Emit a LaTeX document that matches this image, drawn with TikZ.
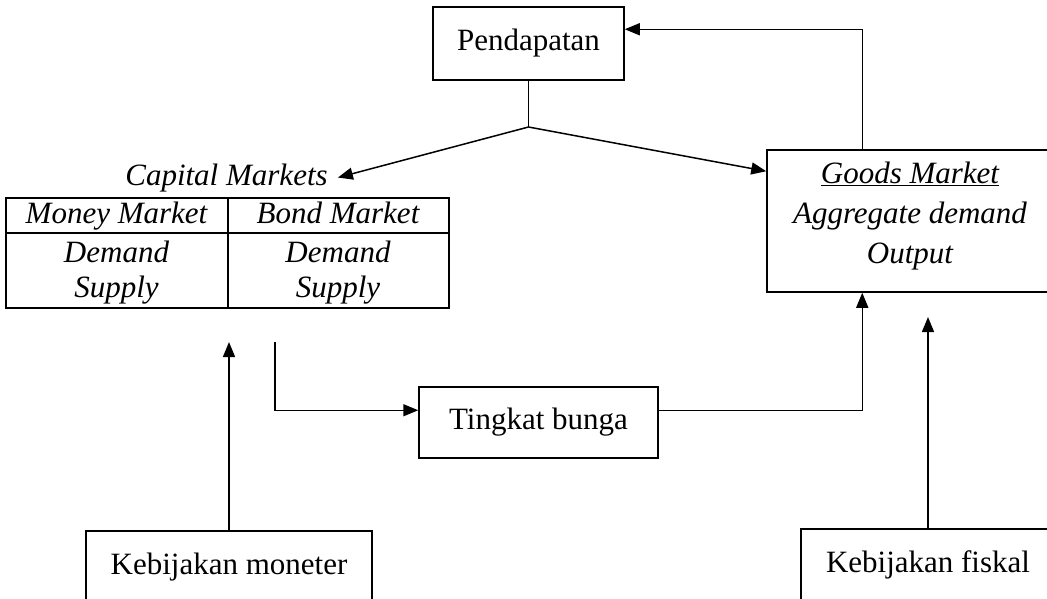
\documentclass[tikz,border=0pt]{standalone}
\usepackage{fontspec}
\setmainfont{Liberation Serif}
\usetikzlibrary{arrows.meta,calc}
\begin{document}
\begin{tikzpicture}[x=1pt,y=-1pt,
  font=\fontsize{31}{36}\selectfont,
  box/.style={draw,line width=1.5pt,inner sep=0pt},
  ln/.style={line width=1.5pt},
  arr/.style={line width=1.5pt,-{Triangle[length=15pt,width=12pt]}},
  it/.style={font=\fontsize{31}{36}\selectfont\itshape,inner sep=0pt,anchor=base}]
\useasboundingbox (0,0) rectangle (1047,598);
\clip (0,0) rectangle (1047,598);
% boxes
\node[box,minimum width=191,minimum height=73] (pend) at (528.5,43.5) {Pendapatan};
\node[box,minimum width=239,minimum height=71] (tb) at (538.5,422.5) {Tingkat bunga};
\node[box,minimum width=286,minimum height=72] (mon) at (229,567) {Kebijakan moneter};
\node[box,minimum width=254,minimum height=72] (fis) at (928,565) {Kebijakan fiskal};
\node[box,minimum width=286,minimum height=142] (goods) at (910,221) {};
\node[align=center,font=\fontsize{31}{40}\selectfont\itshape] (goodstxt) at (910,216) {\underline{Goods Market}\\Aggregate demand\\Output};
% capital markets table
\node[it,inner xsep=10pt] (caplabel) at (226.5,185) {Capital Markets};
\node[box,minimum width=443,minimum height=110,anchor=north west] (cap) at (5,197) {};
\draw[ln] ($(cap.north west)+(223,0)$) -- ($(cap.south west)+(223,0)$);
\draw[ln] ($(cap.north west)+(0,36)$) -- ($(cap.north east)+(0,36)$);
\node[it] (mm) at (116.5,223) {Money Market};
\node[it] (bm) at (338,223) {Bond Market};
\node[it] (d1) at (116.5,262) {Demand};
\node[it] (s1) at (116.5,297) {Supply};
\node[it] (d2) at (338,262) {Demand};
\node[it] (s2) at (338,297) {Supply};
% connectors
\coordinate (split) at (pend.south |- 0,127);
\draw[ln] (pend.south) -- (split);
\draw[arr] (split) -- (caplabel.east);
\draw[arr] (split) -- ($(goods.north west)+(0,22)$);
\draw[arr] ($(goods.north west)+(96,0)$) |- ($(pend.north east)+(0,23)$);
\coordinate (cmout) at (275,342);
\draw[arr] (cmout) |- ($(tb.north west)+(0,24)$);
\draw[arr] ($(tb.north east)+(0,24)$) -| ($(goods.south west)+(96,0)$);
\coordinate (monin) at (229,342);
\draw[arr] (mon.north) -- (monin);
\coordinate (fisin) at (928,317);
\draw[arr] (fis.north) -- (fisin);
\end{tikzpicture}
\end{document}
